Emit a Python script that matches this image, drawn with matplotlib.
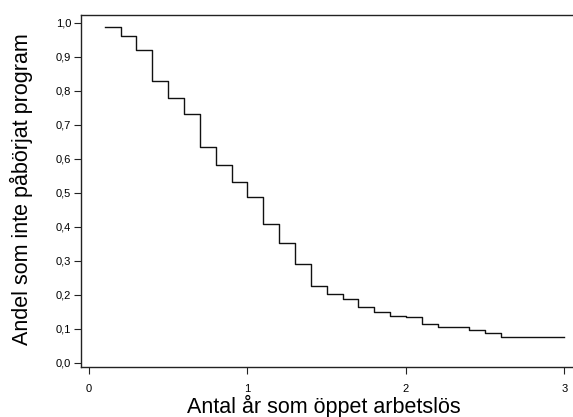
import matplotlib
matplotlib.use("Agg")
import matplotlib.pyplot as plt
from matplotlib.ticker import FuncFormatter

plt.rcParams['font.family'] = ['Liberation Sans', 'DejaVu Sans']

# Step times (years) and survival share
times = [0.1, 0.2, 0.3, 0.4, 0.5, 0.6, 0.7, 0.8, 0.9, 1.0, 1.1, 1.2, 1.3,
         1.4, 1.5, 1.6, 1.7, 1.8, 1.9, 2.0, 2.1, 2.2, 2.4, 2.5, 2.6, 3.0]
share = [0.989, 0.963, 0.921, 0.829, 0.780, 0.732, 0.634, 0.583, 0.531,
         0.487, 0.408, 0.354, 0.291, 0.227, 0.202, 0.187, 0.165, 0.149,
         0.139, 0.136, 0.116, 0.107, 0.097, 0.087, 0.076, 0.076]

xticks = [0, 1, 2, 3]
yticks = [0.0, 0.1, 0.2, 0.3, 0.4, 0.5, 0.6, 0.7, 0.8, 0.9, 1.0]

fig = plt.figure(figsize=(5.73, 4.17), dpi=100)
ax = fig.add_axes([81/573, 1 - 367/417, 1.02 - 81/573, (367 - 15)/417])

ax.plot(times, share, drawstyle='steps-post', color='#111111', linewidth=1.0)

ax.set_xlim(-0.05, 3.0 + 20/158)
ax.set_ylim(-4/340, 1.0 + 8/340)

ax.set_xticks(xticks)
ax.set_yticks(yticks)
ax.yaxis.set_major_formatter(FuncFormatter(lambda v, p: f"{v:.1f}".replace('.', ',')))
ax.tick_params(axis='both', labelsize=8, length=5, width=0.8, color='#222222')
ax.tick_params(axis='x', pad=7)
ax.tick_params(axis='y', pad=2)

for s in ['left', 'bottom', 'top']:
    ax.spines[s].set_linewidth(1.0)
    ax.spines[s].set_color('#222222')
ax.spines['right'].set_visible(False)

ax.set_xlabel('Antal år som öppet arbetslös', fontsize=15.5, labelpad=0)
ax.set_ylabel('Andel som inte påbörjat program', fontsize=15.5)
ax.xaxis.set_label_coords(324/573, 1 - 395/417, transform=fig.transFigure)
ax.yaxis.set_label_coords(33/573, 1 - 189/417, transform=fig.transFigure)

fig.savefig('out.png', dpi=100)
